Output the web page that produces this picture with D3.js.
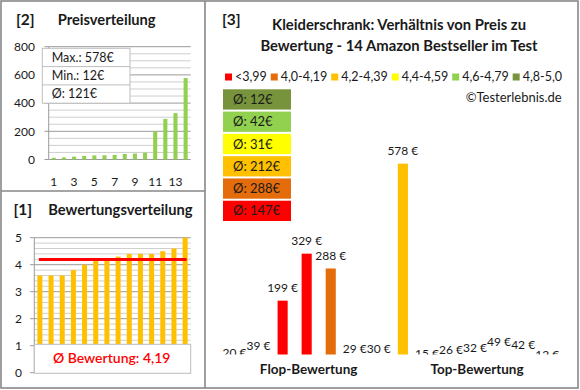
<!DOCTYPE html>
<html><head><meta charset="utf-8">
<script src="https://cdn.jsdelivr.net/npm/d3@7/dist/d3.min.js"></script>
<style>
body{margin:0;background:#fff}
text{font-family:Lato,"Open Sans",sans-serif;fill:#1a1a1a}
</style>
</head><body>
<svg id="c" width="580" height="390"></svg>
<script>
// ---------- DATA ----------
const rankLabels = [1,2,3,4,5,6,7,8,9,10,11,12,13,14];
const pricesSorted = [12,15,20,26,29,30,32,39,42,49,199,288,329,578];
const ratingsSorted = [3.6,3.6,3.6,3.8,4.0,4.15,4.2,4.3,4.4,4.4,4.4,4.5,4.6,5.0];
const avgRating = 4.19;
const avgRatingLabel = "Ø Bewertung: 4,19";
const priceStats = ["Max.: 578€","Min.: 12€","Ø: 121€"];
const priceTicks = [0,200,400,600,800];
const ratingTicks = [0,1,2,3,4,5];
const xTickLabels = [1,3,5,7,9,11,13];

const mainPrices  = [20,39,199,329,288,29,30,578,15,26,32,49,42,12];
const mainRatings = [3.6,3.6,3.6,3.8,4.0,4.2,4.2,4.3,4.4,4.4,4.4,4.5,4.6,5.0];
const mainGroups  = ["Flop-Bewertung","Flop-Bewertung","Flop-Bewertung","Flop-Bewertung","Flop-Bewertung","Flop-Bewertung","Flop-Bewertung",
                     "Top-Bewertung","Top-Bewertung","Top-Bewertung","Top-Bewertung","Top-Bewertung","Top-Bewertung","Top-Bewertung"];
const groups = ["Flop-Bewertung","Top-Bewertung"];

const legendLabels = ["<3,99","4,0-4,19","4,2-4,39","4,4-4,59","4,6-4,79","4,8-5,0"];
const legendColors = ["#FF0000","#E46C0A","#FFC000","#FFFF00","#92D050","#77933C"];
const classThresholds = [4.0,4.2,4.4,4.6,4.8];
const classAvgLabels = ["Ø: 147€","Ø: 288€","Ø: 212€","Ø: 31€","Ø: 42€","Ø: 12€"];

const titleLines = ["Kleiderschrank: Verhältnis von Preis zu","Bewertung - 14 Amazon Bestseller im Test"];
const copyright = "©Testerlebnis.de";

// ---------- DRAW ----------
const svg = d3.select("#c");
const frame = "#878787";

svg.append("rect").attr("x",1).attr("y",1).attr("width",577).attr("height",387)
  .attr("fill","none").attr("stroke",frame).attr("stroke-width",1.6);
svg.append("line").attr("x1",205).attr("x2",205).attr("y1",1).attr("y2",388).attr("stroke",frame).attr("stroke-width",1.6);
svg.append("line").attr("x1",1).attr("x2",205).attr("y1",191).attr("y2",191).attr("stroke",frame).attr("stroke-width",1.6);

// ===== Panel [2] Preisverteilung =====
{
  const x = d3.scaleBand().domain(rankLabels).range([48.7,190.7]).paddingInner(0.6).paddingOuter(0.3);
  const y = d3.scaleLinear().domain([0,800]).range([159.5,46.7]);
  const g = svg.append("g");
  const minor = d3.range(0,801,50);
  g.selectAll(".gm").data(minor).join("line")
    .attr("x1",48.7).attr("x2",190.7).attr("y1",d=>y(d)).attr("y2",d=>y(d))
    .attr("stroke",d=>priceTicks.includes(d)?"#9a9a9a":"#cfcfcf").attr("stroke-width",1);
  g.append("line").attr("x1",48.7).attr("x2",48.7).attr("y1",y(800)).attr("y2",y(0)).attr("stroke","#9a9a9a");
  g.selectAll(".tk").data(priceTicks).join("line").attr("x1",44.5).attr("x2",48.7)
    .attr("y1",d=>y(d)).attr("y2",d=>y(d)).attr("stroke","#9a9a9a");
  g.selectAll(".yl").data(priceTicks).join("text").attr("x",35).attr("y",d=>y(d)).attr("dy","0.35em")
    .attr("text-anchor","end").attr("font-size",12).text(d=>d);
  g.selectAll(".bar").data(pricesSorted).join("rect")
    .attr("x",(d,i)=>x(rankLabels[i])).attr("width",x.bandwidth())
    .attr("y",d=>y(d)).attr("height",d=>y(0)-y(d)).attr("fill","#92D050");
  g.selectAll(".xl").data(xTickLabels).join("text").attr("x",d=>x(d)+x.bandwidth()/2).attr("y",181.7)
    .attr("dy","0.35em").attr("text-anchor","middle").attr("font-size",12).text(d=>d);
  const bx=42.3, by=48.3, bw=87.7, rh=18.3;
  g.append("rect").attr("x",bx).attr("y",by).attr("width",bw).attr("height",rh*3)
    .attr("fill","#fff").attr("stroke","#bdbdbd");
  g.selectAll(".sl").data([1,2]).join("line").attr("x1",bx).attr("x2",bx+bw)
    .attr("y1",d=>by+d*rh).attr("y2",d=>by+d*rh).attr("stroke","#bdbdbd");
  g.selectAll(".st").data(priceStats).join("text").attr("x",bx+9.4).attr("y",(d,i)=>by+rh*(i+0.5))
    .attr("dy","0.35em").attr("font-size",12.5).text(d=>d);
  g.append("text").attr("x",16).attr("y",20).attr("dy","0.35em").attr("font-size",15.5).attr("font-weight","bold").text("[2]");
  g.append("text").attr("x",57.7).attr("y",20).attr("dy","0.35em").attr("font-size",14.7).attr("font-weight","bold").text("Preisverteilung");
}

// ===== Panel [1] Bewertungsverteilung =====
{
  const x = d3.scaleBand().domain(rankLabels).range([34.3,190.7]).paddingInner(0.55).paddingOuter(0.275);
  const y = d3.scaleLinear().domain([0,5]).range([372.7,237.7]);
  const g = svg.append("g");
  const minor = d3.range(0,26).map(d=>d/5);
  g.selectAll(".gm").data(minor).join("line")
    .attr("x1",34.3).attr("x2",190.7).attr("y1",d=>y(d)).attr("y2",d=>y(d))
    .attr("stroke",(d,i)=>i%5===0?"#9a9a9a":"#cfcfcf");
  g.append("line").attr("x1",34.3).attr("x2",34.3).attr("y1",y(5)).attr("y2",y(0)).attr("stroke","#9a9a9a");
  g.selectAll(".tk").data(ratingTicks).join("line").attr("x1",30).attr("x2",34.3)
    .attr("y1",d=>y(d)).attr("y2",d=>y(d)).attr("stroke","#9a9a9a");
  g.selectAll(".yl").data(ratingTicks).join("text").attr("x",22).attr("y",d=>y(d)).attr("dy","0.35em")
    .attr("text-anchor","end").attr("font-size",12).text(d=>d);
  g.selectAll(".bar").data(ratingsSorted).join("rect")
    .attr("x",(d,i)=>x(rankLabels[i])).attr("width",x.bandwidth())
    .attr("y",d=>y(d)).attr("height",d=>y(0)-y(d)).attr("fill","#FFC000");
  g.append("line").attr("x1",x(1)+x.bandwidth()/2-1).attr("x2",x(14)+x.bandwidth()/2+1.5)
    .attr("y1",y(avgRating)).attr("y2",y(avgRating)).attr("stroke","#FF0000").attr("stroke-width",3);
  g.append("rect").attr("x",34.3).attr("y",344.3).attr("width",156.4).attr("height",29)
    .attr("fill","#fff").attr("stroke","#bdbdbd");
  g.append("text").attr("x",111.7).attr("y",358.5).attr("dy","0.35em").attr("text-anchor","middle")
    .attr("font-size",14).attr("font-weight","600").style("fill","#FF0000").text(avgRatingLabel);
  g.append("text").attr("x",13.5).attr("y",210).attr("dy","0.35em").attr("font-size",15.5).attr("font-weight","bold").text("[1]");
  g.append("text").attr("x",48.3).attr("y",210).attr("dy","0.35em").attr("font-size",14.7).attr("font-weight","bold").text("Bewertungsverteilung");
}

// ===== Panel [3] main =====
{
  const g = svg.append("g");
  const color = d3.scaleThreshold().domain(classThresholds).range(legendColors);
  g.append("text").attr("x",222).attr("y",19.5).attr("dy","0.35em").attr("font-size",15.5).attr("font-weight","bold").text("[3]");
  g.selectAll(".tt").data(titleLines).join("text").attr("x",399).attr("y",(d,i)=>25+i*20.5).attr("dy","0.35em")
    .attr("text-anchor","middle").attr("font-size",14.8).attr("font-weight","bold").text(d=>d);

  const lg = g.append("g");
  const items = lg.selectAll(".li").data(legendLabels).join("g");
  items.append("rect").attr("width",7).attr("height",7).attr("y",73.5).attr("fill",(d,i)=>legendColors[i]);
  items.append("text").attr("x",10).attr("y",77).attr("dy","0.35em").attr("font-size",12.5).text(d=>d);
  const widths = [];
  items.each(function(){ widths.push(d3.select(this).select("text").node().getComputedTextLength()+10); });
  const total = 562-225, used = d3.sum(widths), gap = (total-used)/(legendLabels.length-1);
  let cx = 225;
  items.attr("transform",(d,i)=>{ const t=`translate(${cx},0)`; cx += widths[i]+gap; return t; });

  g.append("text").attr("x",561.7).attr("y",97).attr("dy","0.35em").attr("text-anchor","end").attr("font-size",13).text(copyright);

  const order = d3.range(legendLabels.length).reverse();
  const yb = d3.scaleBand().domain(order).range([89.3,221]).paddingInner(0.09);
  const boxes = g.selectAll(".ab").data(order).join("g");
  boxes.append("rect").attr("x",223).attr("width",68).attr("y",d=>yb(d)).attr("height",yb.bandwidth())
    .attr("fill",d=>legendColors[d]);
  boxes.append("text").attr("x",233).attr("y",d=>yb(d)+yb.bandwidth()/2).attr("dy","0.35em")
    .attr("font-size",13).text(d=>classAvgLabels[d]);

  const x = d3.scaleBand().domain(d3.range(mainPrices.length)).range([222.5,559.2]).paddingInner(0.58).paddingOuter(0.29);
  const y = d3.scaleLinear().domain([0,700]).range([372.6,119.55]);
  svg.append("defs").append("clipPath").attr("id","pc").append("rect")
    .attr("x",210).attr("y",60).attr("width",366).attr("height",294.6);
  const pg = g.append("g").attr("clip-path","url(#pc)");
  pg.selectAll(".mb").data(mainPrices).join("rect")
    .attr("x",(d,i)=>x(i)).attr("width",x.bandwidth()).attr("y",d=>y(d)).attr("height",d=>y(0)-y(d))
    .attr("fill",(d,i)=>color(mainRatings[i]));
  pg.selectAll(".ml").data(mainPrices).join("text")
    .attr("x",(d,i)=>x(i)+x.bandwidth()/2).attr("y",d=>y(d)-13).attr("dy","0.35em")
    .attr("text-anchor","middle").attr("font-size",12).text(d=>d+" €");

  g.selectAll(".gl").data(groups).join("text")
    .attr("x",grp=>{ const idx=d3.range(mainPrices.length).filter(i=>mainGroups[i]===grp);
      return (x(idx[0])+x(idx[idx.length-1])+x.bandwidth())/2 + 2; })
    .attr("y",369).attr("dy","0.35em").attr("text-anchor","middle")
    .attr("font-size",13.5).attr("font-weight","bold").text(d=>d);
}
</script>
</body></html>
